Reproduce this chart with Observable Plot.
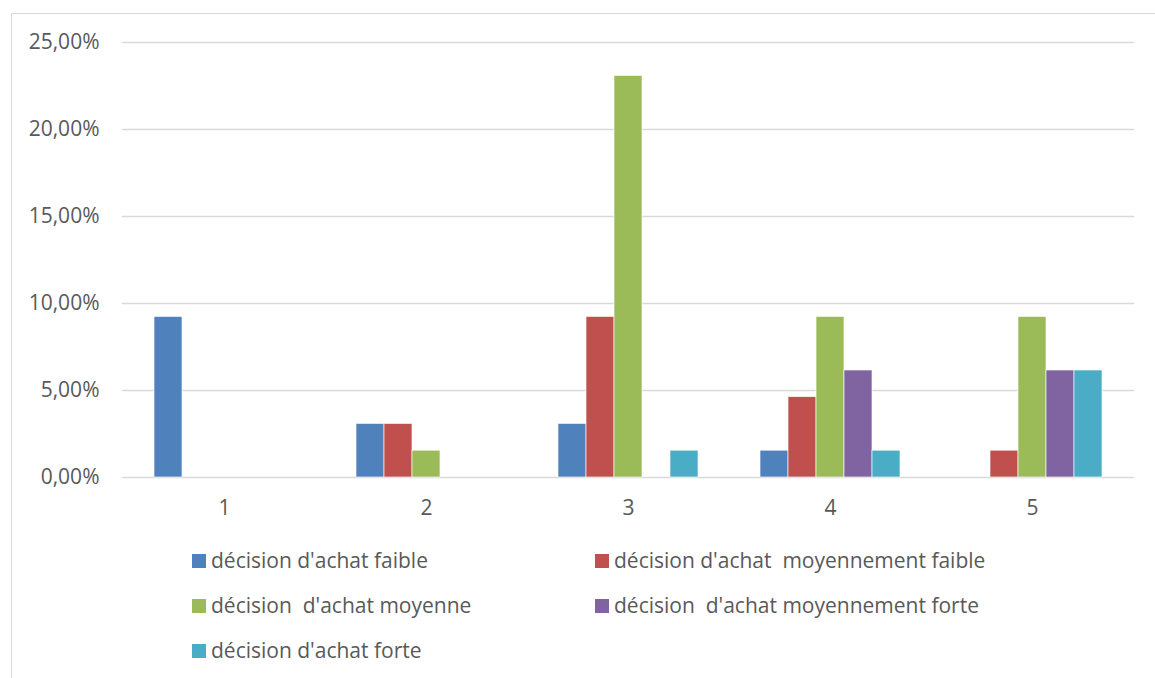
<!DOCTYPE html>
<html>
<head>
<meta charset="utf-8">
<script src="https://cdn.jsdelivr.net/npm/d3@7"></script>
<script src="https://cdn.jsdelivr.net/npm/@observablehq/plot@0.6"></script>
<style>
  body { margin: 0; background: #fff; }
  #chart { position: relative; width: 1155px; height: 678px; overflow: hidden;
           font-family: "Open Sans", sans-serif; color: #595959; }
  #frame { position: absolute; left: 11px; top: 13px; width: 1200px; height: 700px;
           border-left: 1px solid #d9d9d9; border-top: 1px solid #d9d9d9; }
  #chart svg { position: absolute; left: 0; top: 0; }
  .legend-item { position: absolute; display: flex; align-items: center;
                 font-size: 21px; white-space: pre; line-height: 1; }
  .legend-item .sw { width: 14px; height: 14px; margin-right: 5px; flex: none; }
</style>
</head>
<body>
<div id="chart"><div id="frame"></div></div>
<script>
// Groups (x) and series (bars within each group)
const categories = ["1", "2", "3", "4", "5"];
const series = [
  "décision d'achat faible",
  "décision d'achat  moyennement faible",
  "décision  d'achat moyenne",
  "décision  d'achat moyennement forte",
  "décision d'achat forte"
];
const colors = ["#4F81BD", "#C0504D", "#9BBB59", "#8064A2", "#4BACC6"];

// Share of respondents per group, one array per series
const faible            = [0.0923, 0.0308, 0.0308, 0.0154, 0];
const moyennementFaible = [0,      0.0308, 0.0923, 0.0462, 0.0154];
const moyenne           = [0,      0.0154, 0.2308, 0.0923, 0.0923];
const moyennementForte  = [0,      0,      0,      0.0615, 0.0615];
const forte             = [0,      0,      0.0154, 0.0154, 0.0615];

const yTicks = [0, 0.05, 0.10, 0.15, 0.20, 0.25];

const valuesBySeries = [faible, moyennementFaible, moyenne, moyennementForte, forte];
const rows = [];
series.forEach((s, i) => categories.forEach((c, j) =>
  rows.push({category: c, series: s, value: valuesBySeries[i][j]})));

const fmtPct = d => (d * 100).toFixed(2).replace(".", ",") + "%";

const W = 1155, H = 527;
const margins = {marginLeft: 122, marginRight: 21, marginTop: 42, marginBottom: 50};
const textColor = "#595959";
const gridColor = "#d9d9d9";

// Background layer: gridlines, y axis and group labels
const axes = Plot.plot({
  width: W, height: H, ...margins,
  style: {background: "transparent", color: textColor, fontFamily: "Open Sans, sans-serif", fontSize: "21px"},
  x: {domain: categories, paddingInner: 0.3, paddingOuter: 0.15},
  y: {domain: [0, 0.25]},
  marks: [
    Plot.gridY(yTicks, {stroke: gridColor, strokeOpacity: 1, strokeWidth: 1.5}),
    Plot.axisY(yTicks, {tickSize: 0, tickPadding: 23, tickFormat: fmtPct, fontSize: 21, label: null}),
    Plot.axisX({tickSize: 0, tickPadding: 23, fontSize: 21, label: null})
  ]
});

// Foreground layer: grouped bars, one facet per group
const bars = Plot.plot({
  width: W, height: H, ...margins,
  style: {background: "transparent"},
  fx: {domain: categories, paddingInner: 0.3, paddingOuter: 0.15, axis: null},
  x: {domain: series, paddingInner: 0, paddingOuter: 0, axis: null},
  y: {domain: [0, 0.25], axis: null},
  color: {domain: series, range: colors},
  marks: [
    Plot.barY(rows.filter(d => d.value > 0), {
      fx: "category", x: "series", y: "value", fill: "series",
      stroke: "white", strokeWidth: 0.8, strokeOpacity: 0.8
    })
  ]
});

const chart = document.getElementById("chart");
chart.appendChild(axes);
chart.appendChild(bars);

// Legend below the plot: two columns, filled row by row
const colLeft = [192, 595];
const rowTop = [554, 599, 644];
series.forEach((s, i) => {
  const item = document.createElement("div");
  item.className = "legend-item";
  item.style.left = colLeft[i % 2] + "px";
  item.style.top = (rowTop[Math.floor(i / 2)] - 4) + "px";
  const sw = document.createElement("span");
  sw.className = "sw";
  sw.style.background = colors[i];
  const label = document.createElement("span");
  label.textContent = s;
  item.appendChild(sw);
  item.appendChild(label);
  chart.appendChild(item);
});
</script>
</body>
</html>
